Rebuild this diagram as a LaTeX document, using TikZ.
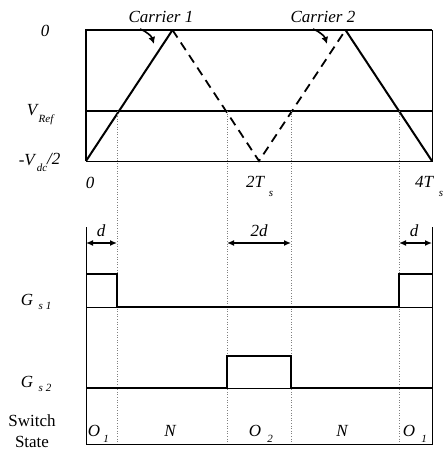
\documentclass[tikz,border=0pt]{standalone}
\usepackage{fontspec}
\setmainfont{Liberation Serif}
\usetikzlibrary{arrows.meta}
\begin{document}
\begin{tikzpicture}[x=1pt,y=-1pt,
  lbl/.style={font=\fontsize{17}{17}\selectfont\itshape, inner sep=0pt},
  sub/.style={font=\fontsize{11}{11}\selectfont\itshape, inner sep=0pt},
  upr/.style={font=\fontsize{17}{17}\selectfont, inner sep=0pt},
  thinln/.style={line width=0.8pt},
  wave/.style={line width=2pt},
  dashwave/.style={line width=1.8pt, dash pattern=on 9pt off 6pt},
  guide/.style={line width=0.6pt, dotted, gray},
  dim/.style={line width=1.3pt, {Latex[length=7pt,width=6pt]}-{Latex[length=7pt,width=6pt]}},
  callout/.style={line width=1.6pt, -{Latex[length=7pt,width=7pt]}}]
\useasboundingbox (0,0) rectangle (445,455);
% key coordinates
\coordinate (TL) at (86,30);
\coordinate (TR) at (432,30);
\coordinate (BL) at (86,161);
\coordinate (BR) at (432,161);
\coordinate (P1) at (172.5,30);
\coordinate (V2) at (259,161);
\coordinate (P2) at (345.5,30);
% top box
\draw[line width=1.1pt] (BL) -- (TL) -- (TR);
\draw[thinln] (TR) -- (BR) -- (BL);
% carriers
\draw[wave] (BL) -- (P1);
\draw[dashwave] (P1) -- (V2) -- (P2);
\draw[wave] (P2) -- (BR);
% reference
\coordinate (RL) at (86,111);
\coordinate (RR) at (432,111);
\draw[line width=2.4pt] (RL) -- (RR);
% guides
\foreach \x/\n in {117/a,227/b,291/c,399/e}{
  \coordinate (g\n t) at (\x,111);
  \coordinate (g\n b) at (\x,444);
  \draw[guide] (g\n t) -- (g\n b);
}
% lower frame
\coordinate (LL1) at (86,227);
\coordinate (LL2) at (86,444);
\coordinate (LR1) at (432,227);
\coordinate (LR2) at (432,444);
\draw[thinln] (LL1) -- (LL2) -- (LR2) -- (LR1);
% baselines
\draw[thinln] (86,307) -- (432,307);
\draw[thinln] (86,388) -- (432,388);
% Gs1
\draw[wave] (86,274) -- (117,274) -- (117,307) -- (399,307) -- (399,274) -- (432,274);
% Gs2
\draw[wave] (86,388) -- (227,388) -- (227,356) -- (291,356) -- (291,388) -- (432,388);
% dimension arrows
\draw[dim] (86,243) -- (117,243);
\draw[dim] (227,243) -- (291,243);
\draw[dim] (399,243) -- (432,243);
\node[lbl] (d1) at (101,231) {d};
\node[lbl] (d2) at (259,231) {2d};
\node[lbl] (d3) at (414,231) {d};
% carrier labels
\node[lbl] (c1) at (161,17) {Carrier 1};
\node[lbl] (c2) at (323,17) {Carrier 2};
\coordinate (a1s) at (140,29);
\coordinate (a1e) at (154,44);
\coordinate (a2s) at (313,29);
\coordinate (a2e) at (327,44);
\draw[callout] (a1s) to[bend left=25] (a1e);
\draw[callout] (a2s) to[bend left=25] (a2e);
% axis labels
\node[lbl] (z0) at (45,31) {0};
\node[lbl] (vr) at (32,110) {V};
\node[sub] (vrs) at (46,120) {Ref};
\node[lbl, anchor=east] (vd) at (35,160) {-V};
\node[sub] (vds) at (42,168) {dc};
\node[lbl, anchor=west] (vd2) at (47,159) {/2};
\node[lbl] (x0) at (90,183) {0};
\node[lbl] (x2) at (255,182) {2T};
\node[sub] (x2s) at (271,194) {s};
\node[lbl] (x4) at (424,182) {4T};
\node[sub] (x4s) at (441,194) {s};
% gate labels
\node[lbl] (g1) at (27,300) {G};
\node[sub] (g1s) at (45,306) {s 1};
\node[lbl] (g2) at (27,382) {G};
\node[sub] (g2s) at (45,388) {s 2};
\node[upr] (sw) at (32,421) {Switch};
\node[upr] (st) at (32,442) {State};
% states
\node[lbl] (o1) at (94,431) {O};
\node[sub] (o1s) at (106,439) {1};
\node[lbl] (n1) at (170,431) {N};
\node[lbl] (o2) at (255,431) {O};
\node[sub] (o2s) at (270,439) {2};
\node[lbl] (n2) at (342,431) {N};
\node[lbl] (o3) at (409,431) {O};
\node[sub] (o3s) at (424,439) {1};
\end{tikzpicture}
\end{document}
